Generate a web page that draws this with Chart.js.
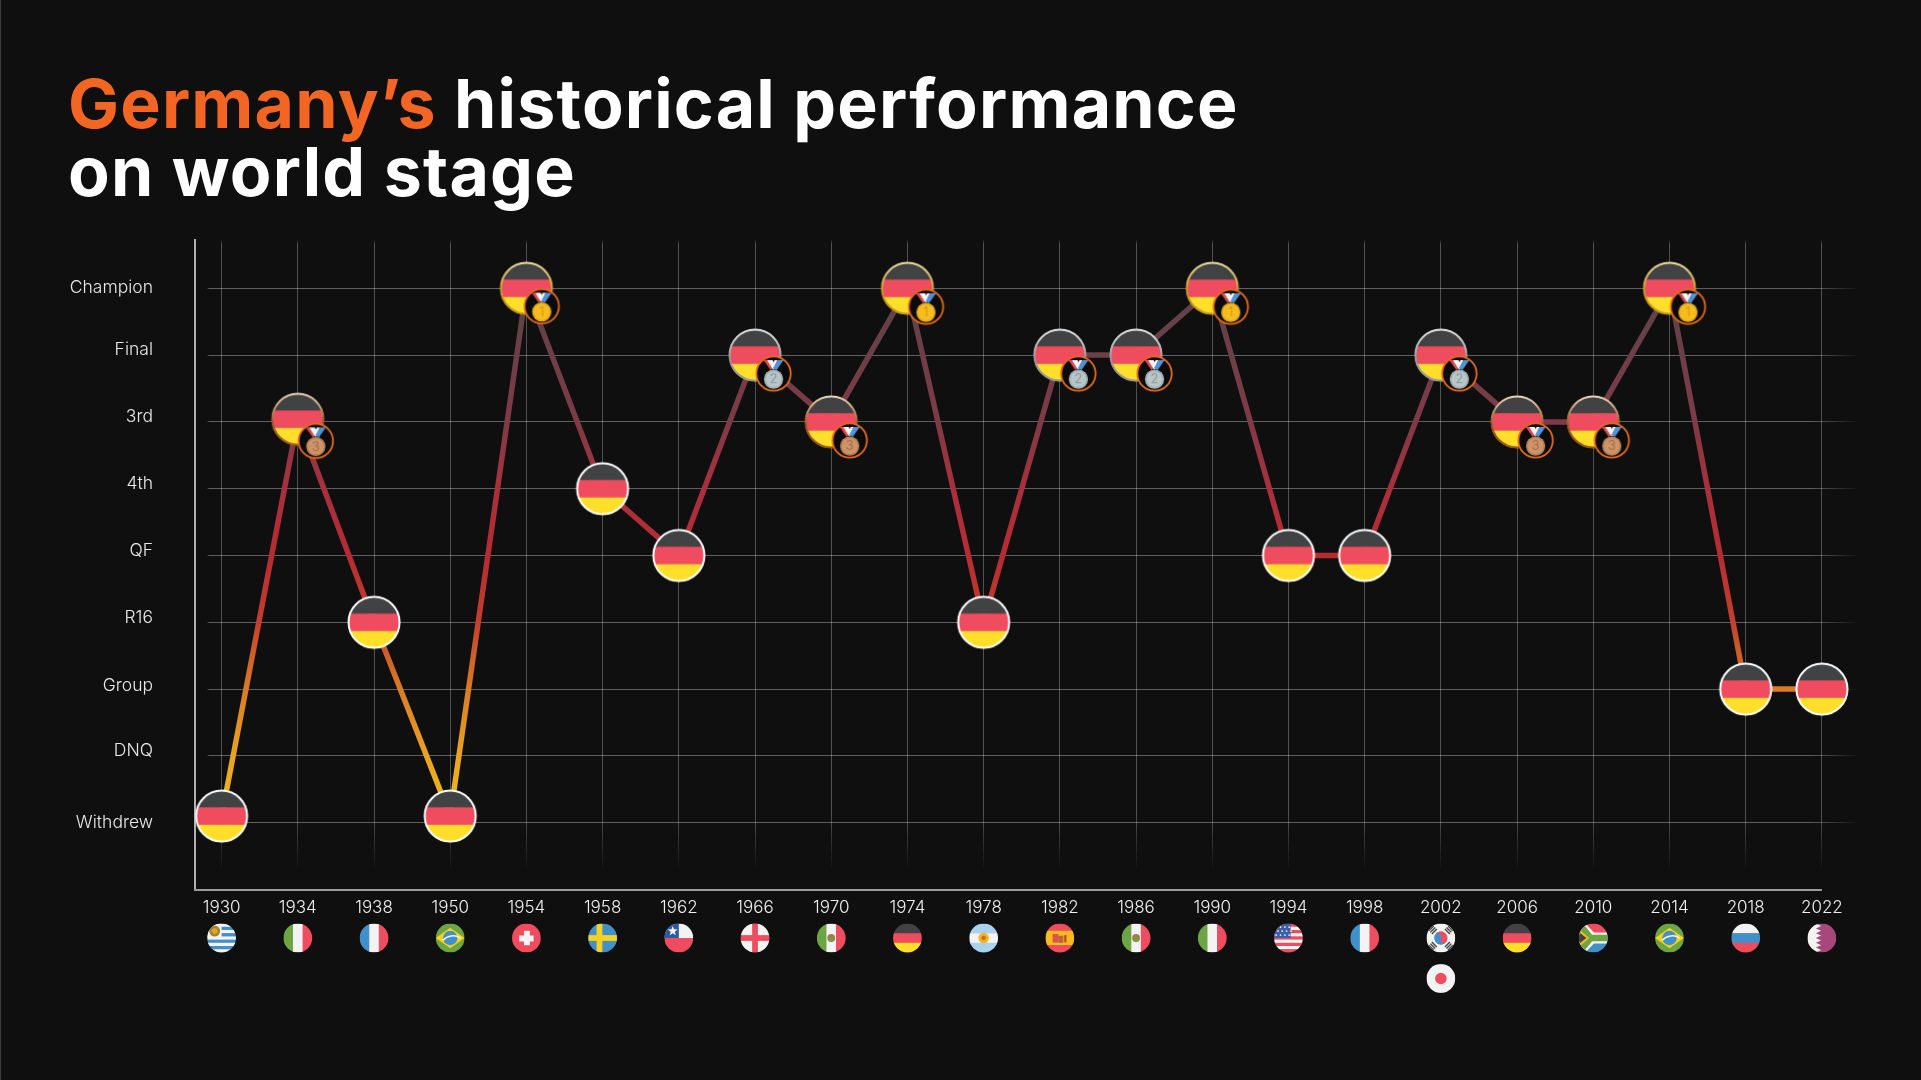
<!DOCTYPE html>
<html lang="en">
<head>
<meta charset="utf-8">
<title>Germany's historical performance on world stage</title>
<script src="https://cdn.jsdelivr.net/npm/chart.js@4"></script>
<style>
  html, body { margin: 0; padding: 0; width: 1921px; height: 1080px; overflow: hidden; background: #0f0f10; }
  #edge { position: absolute; left: 0; top: 0; width: 1px; height: 1080px; background: #3c3c3c; }
  h1 {
    position: absolute; left: 68px; top: 69px; margin: 0;
    font: 700 68px/68px Inter, sans-serif; letter-spacing: 1.2px; color: #fff; white-space: nowrap;
  }
  h1 span { color: #f26522; }
  canvas { position: absolute; left: 0; top: 0; }
</style>
</head>
<body>
<div id="edge"></div>
<canvas id="chart" width="1921" height="1080"></canvas>
<h1><span>Germany’s</span> historical performance<br>on world stage</h1>
<script>
// World Cup editions and the stage Germany reached in each one
const years = [1930, 1934, 1938, 1950, 1954, 1958, 1962, 1966, 1970, 1974, 1978, 1982, 1986, 1990, 1994, 1998, 2002, 2006, 2010, 2014, 2018, 2022];
const stages = [0.1, 6.04, 3, 0.1, 8, 5, 4, 7, 6, 8, 3, 7, 7, 8, 4, 4, 7, 6, 6, 8, 2, 2];
const medals = [0, 3, 0, 0, 1, 0, 0, 2, 3, 1, 0, 2, 2, 1, 0, 0, 2, 3, 3, 1, 0, 0];
const hosts = [['uy'], ['it'], ['fr'], ['br'], ['ch'], ['se'], ['cl'], ['en'], ['mx'], ['de'], ['ar'], ['es'], ['mx'], ['it'], ['us'], ['fr'], ['kr', 'jp'], ['de'], ['za'], ['br'], ['ru'], ['qa']];

// Stage names and where each name sits on the stage axis
const stageLabels = ['Champion', 'Final', '3rd', '4th', 'QF', 'R16', 'Group', 'DNQ', 'Withdrew'];
const stageLabelValues = [8.005, 7.075, 6.075, 5.075, 4.07, 3.07, 2.045, 1.075, -0.005];
const stageGrid = [8, 7, 6, 5, 4, 3, 2, 1, 0];

// Line colour by stage value
const lineStops = [8, 6, 5, 4, 3, 2.6, 2, 1, 0];
const lineColors = ['#5c4349', '#7f3a46', '#a8303d', '#b62b32', '#c43f2c', '#cc5a28', '#d97c25', '#e8a420', '#f2bd1c'];

const RED = '#ef4d5f', GREEN = '#6da544', WHITE = '#f3f3f3', BLUE = '#4290c9', YELLOW = '#ffdf2a', DARK = '#404244';

function hBands(c, cx, cy, r, colors) {
  const h = 2 * r / colors.length;
  colors.forEach((col, i) => { c.fillStyle = col; c.fillRect(cx - r, cy - r + i * h, 2 * r, h + 0.5); });
}
function vBands(c, cx, cy, r, colors) {
  const w = 2 * r / colors.length;
  colors.forEach((col, i) => { c.fillStyle = col; c.fillRect(cx - r + i * w, cy - r, w + 0.5, 2 * r); });
}
function dot(c, x, y, r, col) { c.fillStyle = col; c.beginPath(); c.arc(x, y, r, 0, Math.PI * 2); c.fill(); }
function poly(c, col, pts) {
  c.fillStyle = col; c.beginPath();
  pts.forEach((p, i) => i ? c.lineTo(p[0], p[1]) : c.moveTo(p[0], p[1]));
  c.closePath(); c.fill();
}
function star(c, x, y, r, col) {
  const pts = [];
  for (let i = 0; i < 10; i++) {
    const a = -Math.PI / 2 + i * Math.PI / 5, q = i % 2 ? r * 0.42 : r;
    pts.push([x + q * Math.cos(a), y + q * Math.sin(a)]);
  }
  poly(c, col, pts);
}

// Round country flags, all painted inside a circle of radius r
const flagPainters = {
  uy(c, x, y, r) {
    hBands(c, x, y, r, [WHITE, BLUE, WHITE, BLUE, WHITE, BLUE, WHITE, BLUE, WHITE]);
    c.fillStyle = WHITE; c.fillRect(x - r, y - r, r, r * 0.95);
    dot(c, x - r * 0.48, y - r * 0.48, r * 0.38, '#a8832a');
    dot(c, x - r * 0.48, y - r * 0.48, r * 0.2, '#d5a92d');
  },
  it(c, x, y, r) { vBands(c, x, y, r, [GREEN, WHITE, RED]); },
  fr(c, x, y, r) { vBands(c, x, y, r, [BLUE, WHITE, RED]); },
  br(c, x, y, r) {
    c.fillStyle = GREEN; c.fillRect(x - r, y - r, 2 * r, 2 * r);
    poly(c, '#f7d21e', [[x - r, y], [x, y - r * 0.72], [x + r, y], [x, y + r * 0.72]]);
    dot(c, x, y, r * 0.5, BLUE);
    c.strokeStyle = WHITE; c.lineWidth = 1.5;
    c.beginPath(); c.arc(x + r * 0.2, y + r * 0.8, r * 0.95, -2.4, -1.0); c.stroke();
  },
  ch(c, x, y, r) {
    c.fillStyle = RED; c.fillRect(x - r, y - r, 2 * r, 2 * r);
    c.fillStyle = WHITE;
    c.fillRect(x - r * 0.5, y - r * 0.17, r, r * 0.34 + 1);
    c.fillRect(x - r * 0.17, y - r * 0.5, r * 0.34 + 1, r);
  },
  se(c, x, y, r) {
    c.fillStyle = BLUE; c.fillRect(x - r, y - r, 2 * r, 2 * r);
    c.fillStyle = '#f7d21e';
    c.fillRect(x - r, y - r * 0.2, 2 * r, r * 0.4);
    c.fillRect(x - r * 0.42, y - r, r * 0.4, 2 * r);
  },
  cl(c, x, y, r) {
    c.fillStyle = WHITE; c.fillRect(x - r, y - r, 2 * r, r);
    c.fillStyle = RED; c.fillRect(x - r, y, 2 * r, r);
    c.fillStyle = '#2c5aa0'; c.fillRect(x - r, y - r, r, r);
    star(c, x - r * 0.42, y - r * 0.48, r * 0.36, WHITE);
  },
  en(c, x, y, r) {
    c.fillStyle = WHITE; c.fillRect(x - r, y - r, 2 * r, 2 * r);
    c.fillStyle = RED;
    c.fillRect(x - r, y - r * 0.2, 2 * r, r * 0.4);
    c.fillRect(x - r * 0.2, y - r, r * 0.4, 2 * r);
  },
  mx(c, x, y, r) {
    vBands(c, x, y, r, [GREEN, WHITE, RED]);
    dot(c, x, y, r * 0.27, '#a5774b');
    dot(c, x, y + r * 0.14, r * 0.15, '#6da544');
  },
  de(c, x, y, r) { hBands(c, x, y, r, [DARK, RED, YELLOW]); },
  ar(c, x, y, r) {
    hBands(c, x, y, r, ['#a9d2ee', WHITE, '#a9d2ee']);
    dot(c, x, y, r * 0.36, '#f7b11e');
    dot(c, x, y, r * 0.15, '#c0741c');
  },
  es(c, x, y, r) {
    hBands(c, x, y, r, [RED, '#f7bb1f', '#f7bb1f', RED]);
    c.fillStyle = '#d9534f'; c.fillRect(x - r * 0.5, y - r * 0.28, r * 0.4, r * 0.6);
    c.fillStyle = '#b9653a'; c.fillRect(x - r * 0.1, y - r * 0.16, r * 0.34, r * 0.5);
    c.fillStyle = '#c8452f'; c.fillRect(x + r * 0.3, y - r * 0.2, r * 0.16, r * 0.5);
  },
  us(c, x, y, r) {
    hBands(c, x, y, r, [RED, WHITE, RED, WHITE, RED, WHITE, RED, WHITE, RED]);
    c.fillStyle = '#3e5fa8'; c.fillRect(x - r, y - r, r * 1.15, r);
    for (let row = 0; row < 3; row++) {
      for (let col = 0; col < 4; col++) {
        dot(c, x - r * 0.85 + col * r * 0.3 + (row % 2) * r * 0.12, y - r * 0.76 + row * r * 0.28, 0.9, WHITE);
      }
    }
  },
  kr(c, x, y, r) {
    c.fillStyle = WHITE; c.fillRect(x - r, y - r, 2 * r, 2 * r);
    c.save();
    c.translate(x, y); c.rotate(0.55);
    c.fillStyle = RED; c.beginPath(); c.arc(0, 0, r * 0.46, Math.PI, 0); c.fill();
    c.fillStyle = BLUE; c.beginPath(); c.arc(0, 0, r * 0.46, 0, Math.PI); c.fill();
    dot(c, -r * 0.23, 0, r * 0.23, BLUE);
    dot(c, r * 0.23, 0, r * 0.23, RED);
    c.restore();
    [[-1, -1], [1, -1], [-1, 1], [1, 1]].forEach(([sx, sy]) => {
      c.save();
      c.translate(x + sx * r * 0.56, y + sy * r * 0.56);
      c.rotate(Math.atan2(sy, sx) + Math.PI / 2);
      c.fillStyle = DARK;
      for (let i = -1; i <= 1; i++) c.fillRect(-r * 0.24, i * r * 0.15 - 0.7, r * 0.48, 1.4);
      c.restore();
    });
  },
  jp(c, x, y, r) {
    c.fillStyle = WHITE; c.fillRect(x - r, y - r, 2 * r, 2 * r);
    dot(c, x, y, r * 0.4, RED);
  },
  za(c, x, y, r) {
    c.fillStyle = RED; c.fillRect(x - r, y - r, 2 * r, r);
    c.fillStyle = BLUE; c.fillRect(x - r, y, 2 * r, r);
    poly(c, WHITE, [[x - r, y - r], [x - r * 0.55, y - r], [x + r * 0.05, y - r * 0.38], [x + r, y - r * 0.38], [x + r, y + r * 0.38], [x + r * 0.05, y + r * 0.38], [x - r * 0.55, y + r], [x - r, y + r]]);
    poly(c, GREEN, [[x - r, y - r * 0.9], [x - r * 0.72, y - r], [x - r * 0.08, y - r * 0.22], [x + r, y - r * 0.22], [x + r, y + r * 0.22], [x - r * 0.08, y + r * 0.22], [x - r * 0.72, y + r], [x - r, y + r * 0.9]]);
    poly(c, '#f7bb1f', [[x - r, y - r * 0.62], [x - r * 0.28, y], [x - r, y + r * 0.62]]);
    poly(c, DARK, [[x - r, y - r * 0.42], [x - r * 0.48, y], [x - r, y + r * 0.42]]);
  },
  ru(c, x, y, r) { hBands(c, x, y, r, [WHITE, BLUE, RED]); },
  qa(c, x, y, r) {
    c.fillStyle = '#a8487a'; c.fillRect(x - r, y - r, 2 * r, 2 * r);
    const pts = [[x - r, y - r]];
    const teeth = 6, h = 2 * r / teeth;
    for (let i = 0; i < teeth; i++) {
      pts.push([x - r * 0.42, y - r + i * h]);
      pts.push([x - r * 0.05, y - r + (i + 0.5) * h]);
    }
    pts.push([x - r * 0.42, y + r], [x - r, y + r]);
    poly(c, WHITE, pts);
  }
};

function paintFlag(c, code, x, y, r) {
  c.save();
  c.beginPath(); c.arc(x, y, r, 0, Math.PI * 2); c.clip();
  flagPainters[code](c, x, y, r);
  c.restore();
}

// Ring colours and medal colours: none, gold, silver, bronze
const ringTop = ['#ffffff', '#f3e2a4', '#e8e8e8', '#efd9bd'];
const ringBottom = ['#ffffff', '#c99a1e', '#9a9a9a', '#9a5a22'];
const medalFill = [null, '#f7bd1f', '#b9c6c8', '#cf9468'];
const medalInk = [null, '#d99c12', '#8c9a9c', '#a56e46'];

// Point images: a German flag disc, with the medal badge on podium finishes
function buildMarker(medal, dx = 18.5, dy = 18.5) {
  const size = 130, mid = size / 2, r = 26.3;
  const cv = document.createElement('canvas');
  cv.width = size; cv.height = size;
  const c = cv.getContext('2d');
  paintFlag(c, 'de', mid, mid, r);
  const ring = c.createLinearGradient(0, mid - r, 0, mid + r);
  ring.addColorStop(0, ringTop[medal]);
  ring.addColorStop(0.55, ringBottom[medal]);
  ring.addColorStop(1, ringBottom[medal]);
  c.strokeStyle = ring; c.lineWidth = 2;
  c.beginPath(); c.arc(mid, mid, r - 0.8, 0, Math.PI * 2); c.stroke();
  if (medal) {
    const bx = mid + dx, by = mid + dy;
    c.fillStyle = '#0b0b0c'; c.strokeStyle = '#e66a1e'; c.lineWidth = 1.8;
    c.beginPath(); c.arc(bx, by, 17.2, 0, Math.PI * 2); c.fill(); c.stroke();
    // Ribbon: blue strap laid over the red and white one
    poly(c, '#dc4a52', [[bx - 10, by - 13.5], [bx - 6.5, by - 13.5], [bx - 0.5, by - 6], [bx - 3, by - 3.5]]);
    poly(c, '#f5f5f5', [[bx - 6.5, by - 13.5], [bx - 1, by - 13.5], [bx + 3, by - 7], [bx - 0.5, by - 4]]);
    poly(c, '#f5f5f5', [[bx + 1, by - 13.5], [bx + 4, by - 13.5], [bx, by - 5], [bx - 1.5, by - 7]]);
    poly(c, '#4f93d6', [[bx + 10, by - 13.5], [bx + 4, by - 13.5], [bx - 0.5, by - 5.5], [bx + 3, by - 3.5]]);
    dot(c, bx, by + 5.6, 9.6, medalFill[medal]);
    c.strokeStyle = medalInk[medal]; c.lineWidth = 0.7;
    c.beginPath(); c.arc(bx, by + 5.6, 8.5, 0, Math.PI * 2); c.stroke();
    c.fillStyle = medalInk[medal];
    c.font = '400 13px Inter, sans-serif'; c.textAlign = 'center'; c.textBaseline = 'middle';
    c.fillText(String(medal), bx, by + 6);
  }
  return cv;
}
const markers = [0, 1, 2, 3].map(m => buildMarker(m));
// The 1934 and 1954 badges sit a little apart from the others
const markerOverrides = { 1934: buildMarker(3, 18, 21.7), 1954: buildMarker(1, 15.3, 18) };

// Grid fades out towards the far ends of each line
function hGridGradient(chart) {
  const a = chart.chartArea, w = a.right - a.left;
  const g = chart.ctx.createLinearGradient(a.left, 0, a.right, 0);
  g.addColorStop(0, 'rgba(255,255,255,0)');
  g.addColorStop(12 / w, 'rgba(255,255,255,0)');
  g.addColorStop(14 / w, 'rgba(255,255,255,0.34)');
  g.addColorStop((w - 50) / w, 'rgba(255,255,255,0.34)');
  g.addColorStop(1, 'rgba(255,255,255,0)');
  return g;
}
function vGridGradient(chart) {
  const a = chart.chartArea, h = a.bottom - a.top;
  const g = chart.ctx.createLinearGradient(0, a.top, 0, a.bottom);
  g.addColorStop(0, 'rgba(255,255,255,0.04)');
  g.addColorStop(4 / h, 'rgba(255,255,255,0.28)');
  g.addColorStop((h - 75) / h, 'rgba(255,255,255,0.28)');
  g.addColorStop((h - 18) / h, 'rgba(255,255,255,0)');
  g.addColorStop(1, 'rgba(255,255,255,0)');
  return g;
}

function lineGradient(ctx) {
  const chart = ctx.chart;
  if (!chart.chartArea) return lineColors[0];
  const yScale = chart.scales.y, top = yScale.getPixelForValue(8), bottom = yScale.getPixelForValue(0);
  const g = chart.ctx.createLinearGradient(0, top, 0, bottom);
  lineStops.forEach((s, i) => g.addColorStop((8 - s) / 8, lineColors[i]));
  return g;
}

// Baseline stops at the last edition; host flags hang under the year labels
const hostFlagsPlugin = {
  id: 'hostFlags',
  beforeDatasetsDraw(chart) {
    const c = chart.ctx, x = chart.scales.x, a = chart.chartArea;
    c.save();
    c.strokeStyle = '#9a9a9a'; c.lineWidth = 2;
    c.beginPath(); c.moveTo(a.left - 1, a.bottom); c.lineTo(x.getPixelForValue(years.length - 1), a.bottom); c.stroke();
    c.restore();
  },
  afterDraw(chart) {
    const c = chart.ctx, x = chart.scales.x, a = chart.chartArea;
    hosts.forEach((codes, i) => {
      codes.forEach((code, row) => {
        paintFlag(c, code, x.getPixelForValue(i), a.bottom + 48 + row * 40.5, 14.4);
      });
    });
  }
};

new Chart(document.getElementById('chart'), {
  type: 'line',
  data: {
    datasets: [{
      data: stages.map((v, i) => ({ x: i, y: v })),
      borderColor: lineGradient,
      borderWidth: 5.5,
      tension: 0,
      clip: false,
      pointRadius: 26,
      pointHoverRadius: 26,
      pointStyle: ctx => markerOverrides[years[ctx.dataIndex]] || markers[medals[ctx.dataIndex] || 0]
    }]
  },
  plugins: [hostFlagsPlugin],
  options: {
    responsive: false,
    animation: false,
    events: [],
    layout: { padding: { top: 240, right: 61, bottom: 0, left: 0 } },
    plugins: { legend: { display: false }, tooltip: { enabled: false } },
    scales: {
      x: {
        type: 'linear',
        min: -0.349,
        max: 21.5,
        afterBuildTicks: scale => { scale.ticks = years.map((_, i) => ({ value: i })); },
        afterFit: scale => { scale.height = 190; },
        border: { display: false },
        grid: { color: ctx => vGridGradient(ctx.chart), lineWidth: 1, drawTicks: false },
        ticks: {
          autoSkip: false, maxRotation: 0, padding: 8, color: '#f0f0f0',
          font: { family: 'Inter, sans-serif', size: 17, weight: 300 },
          callback: value => years[value]
        }
      },
      y: {
        position: 'left',
        weight: 0,
        min: -1.0075,
        max: 8.723,
        afterBuildTicks: scale => { scale.ticks = stageGrid.map(v => ({ value: v })); },
        afterFit: scale => { scale.width = 0; },
        border: { display: true, color: '#b0b0b0', width: 2 },
        grid: { color: ctx => hGridGradient(ctx.chart), lineWidth: 1, drawTicks: false },
        ticks: { display: false }
      },
      yNames: {
        position: 'left',
        weight: 1,
        min: -1.0075,
        max: 8.723,
        afterBuildTicks: scale => { scale.ticks = stageLabelValues.map(v => ({ value: v })); },
        afterFit: scale => { scale.width = 195; },
        border: { display: false },
        grid: { display: false, drawTicks: false },
        ticks: {
          autoSkip: false, padding: 42, color: '#e8e8e8',
          font: { family: 'Inter, sans-serif', size: 17.5, weight: 300 },
          callback: value => stageLabels[stageLabelValues.indexOf(value)]
        }
      }
    }
  }
});
</script>
</body>
</html>
